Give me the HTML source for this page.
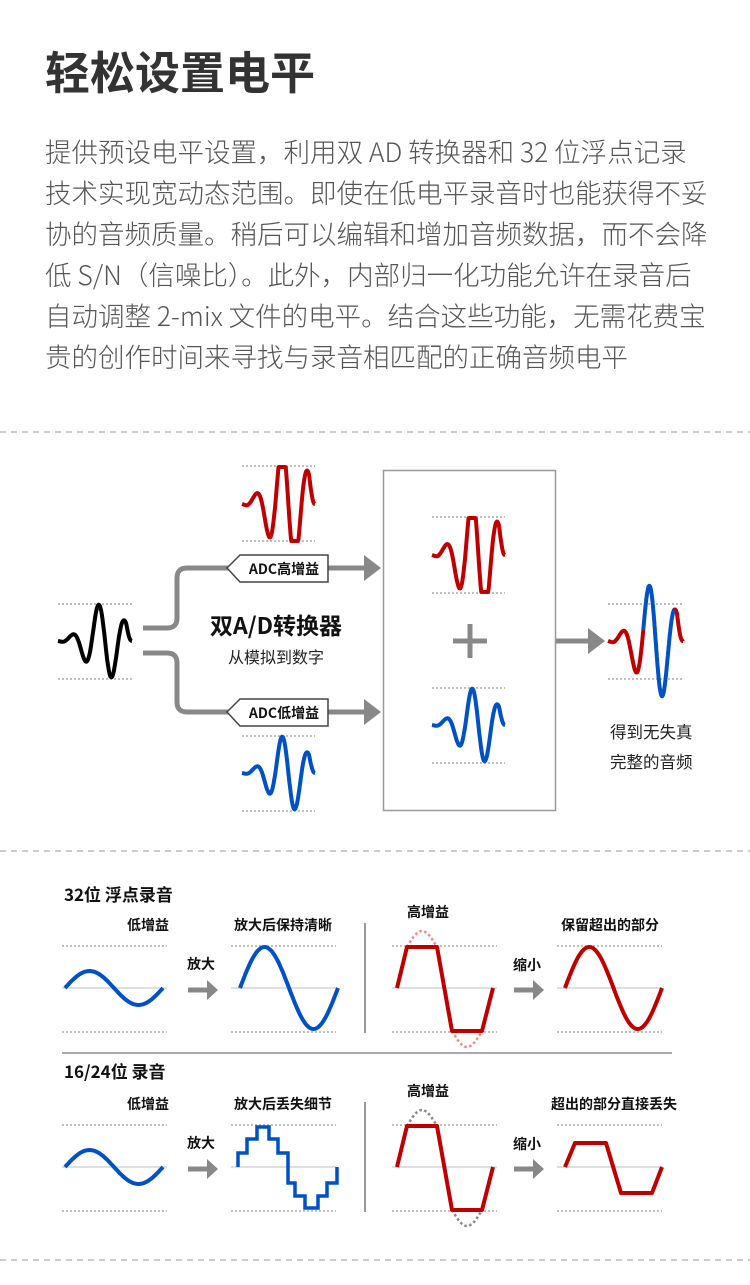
<!DOCTYPE html>
<html><head><meta charset="utf-8">
<style>
html,body{margin:0;padding:0;background:#fff;}
body{width:750px;height:1285px;position:relative;overflow:hidden;font-family:"Liberation Sans","Noto Sans CJK SC",sans-serif;}
.t{position:absolute;left:45px;top:40px;font-size:45px;font-weight:bold;color:#333;line-height:60px;white-space:nowrap;font-family:"Noto Sans CJK SC",sans-serif;}
.p{position:absolute;left:45px;top:130px;font-size:26.5px;color:#555;line-height:41px;white-space:nowrap;font-family:"Noto Sans CJK SC",sans-serif;font-weight:300;}
svg{position:absolute;left:0;top:0;}
svg text{font-family:"Noto Sans CJK SC",sans-serif;}
</style></head><body>
<div class="t">轻松设置电平</div>
<div class="p">提供预设电平设置，利用双 AD 转换器和 32 位浮点记录<br>技术实现宽动态范围。即使在低电平录音时也能获得不妥<br>协的音频质量。稍后可以编辑和增加音频数据，而不会降<br>低 S/N（信噪比）。此外，内部归一化功能允许在录音后<br>自动调整 2-mix 文件的电平。结合这些功能，无需花费宝<br>贵的创作时间来寻找与录音相匹配的正确音频电平</div>
<svg width="750" height="1285" viewBox="0 0 750 1285">
<g stroke="#bbb" stroke-width="1.5" stroke-dasharray="6,5">
<line x1="0" y1="432" x2="750" y2="432"/>
<line x1="0" y1="851" x2="750" y2="851"/>
<line x1="0" y1="1260" x2="750" y2="1260"/>
</g>
<g id="dots" stroke="#999" stroke-width="1.3" stroke-dasharray="2,2">
<line x1="58" y1="604" x2="132" y2="604"/><line x1="58" y1="679" x2="132" y2="679"/>
<line x1="242" y1="466" x2="315" y2="466"/><line x1="242" y1="541" x2="315" y2="541"/>
<line x1="242" y1="736" x2="315" y2="736"/><line x1="242" y1="811" x2="315" y2="811"/>
<line x1="432" y1="517" x2="505" y2="517"/><line x1="432" y1="593" x2="505" y2="593"/>
<line x1="432" y1="688" x2="505" y2="688"/><line x1="432" y1="763" x2="505" y2="763"/>
<line x1="608" y1="604" x2="683" y2="604"/><line x1="608" y1="679" x2="683" y2="679"/>
</g>
<g fill="none" stroke="#888" stroke-width="5">
<path d="M143,628 H167 Q177,628 177,618 V578 Q177,568 187,568 H230"/>
<path d="M143,653 H167 Q177,653 177,663 V702 Q177,712 187,712 H230"/>
<line x1="328" y1="568" x2="366" y2="568"/>
<line x1="328" y1="712" x2="366" y2="712"/>
<line x1="555" y1="641" x2="590" y2="641"/>
</g>
<g fill="#888">
<polygon points="364,555 381,568 364,581"/>
<polygon points="364,699 381,712 364,725"/>
<polygon points="588,628 605,641 588,654"/>
</g>
<g fill="#fff" stroke="#444" stroke-width="1.5">
<polygon points="227,568 240,555 328,555 328,582 240,582"/>
<polygon points="227,712 240,699 328,699 328,726 240,726"/>
</g>
<text x="284" y="574" font-size="14" font-weight="bold" text-anchor="middle" fill="#111">ADC高增益</text>
<text x="284" y="718" font-size="14" font-weight="bold" text-anchor="middle" fill="#111">ADC低增益</text>
<text x="276" y="634" font-size="23" font-weight="bold" text-anchor="middle" fill="#111">双A/D转换器</text>
<text x="276" y="663" font-size="16" text-anchor="middle" fill="#222">从模拟到数字</text>
<rect x="383.5" y="470.5" width="172" height="340" fill="none" stroke="#999" stroke-width="1.5"/>
<g stroke="#888" stroke-width="5"><line x1="470" y1="624" x2="470" y2="658"/><line x1="453" y1="641" x2="487" y2="641"/></g>
<text x="610" y="738" font-size="16.5" fill="#222">得到无失真</text>
<text x="610" y="768" font-size="16.5" fill="#222">完整的音频</text>
<g id="waves" fill="none" stroke-width="4" stroke-linejoin="round"></g>
<text x="64" y="901" font-size="17" font-weight="bold" fill="#111">32位 浮点录音</text>
<text x="64" y="1078" font-size="17" font-weight="bold" fill="#111">16/24位 录音</text>
<line x1="62" y1="1053" x2="672" y2="1053" stroke="#aaa" stroke-width="2"/>
<g id="bot"></g>
</svg>
<script>
var NS="http://www.w3.org/2000/svg";
function el(par,tag,attrs){var e=document.createElementNS(NS,tag);for(var k in attrs)e.setAttribute(k,attrs[k]);par.appendChild(e);return e;}
function f(t){var d=t-0.636;var w=1;if(t<0.08)w=t/0.08;if(t>0.92)w=(1-t)/0.08;return -Math.exp(-Math.pow(d/0.33,2))*Math.sin(2*Math.PI*2.78*d)*w;}
function wave(x0,x1,cy,A,gain,clip,t0,t1){var pts=[];var N=120;for(var i=0;i<=N;i++){var t=t0+(t1-t0)*i/N;var v=f(t)*gain;if(clip){if(v>1)v=1;if(v<-1)v=-1;}pts.push((x0+(x1-x0)*t).toFixed(1)+","+(cy-A*v).toFixed(1));}return "M"+pts.join(" L");}
var g=document.getElementById("waves");
el(g,"path",{d:wave(58,132,641,37/0.95,1,false,0,1),stroke:"#000"});
el(g,"path",{d:wave(242,315,504,37,1.7,true,0,1),stroke:"#c00000"});
el(g,"path",{d:wave(242,315,773,37/0.95,1,false,0,1),stroke:"#0050c8"});
el(g,"path",{d:wave(432,505,555,37,1.7,true,0,1),stroke:"#c00000"});
el(g,"path",{d:wave(432,505,725,37/0.95,1,false,0,1),stroke:"#0050c8"});
el(g,"path",{d:wave(608,683,641,37,1.6,false,0,0.47),stroke:"#c00000"});
el(g,"path",{d:wave(608,683,641,37,1.6,false,0.88,1),stroke:"#c00000"});
el(g,"path",{d:wave(608,683,641,37,1.6,false,0.47,0.88),stroke:"#0050c8"});
var b=document.getElementById("bot");
function sine(x0,x1,cy,A,n){var p=[];for(var i=0;i<=n;i++){var t=i/n;p.push((x0+(x1-x0)*t).toFixed(1)+","+(cy-A*Math.sin(2*Math.PI*t)).toFixed(1));}return "M"+p.join(" L");}
function arc(x0,x1,cy,A,dir){var p=[];for(var i=0;i<=30;i++){var t=i/30;p.push((x0+(x1-x0)*t).toFixed(1)+","+(cy-dir*A*Math.sin(Math.PI*t)).toFixed(1));}return "M"+p.join(" L");}
function row(dy,r2){
 var ax=988+dy, top=946+dy, bot=1032+dy;
 [[62,167],[231,336],[392,497],[557,662]].forEach(function(s){
  el(b,"line",{x1:s[0],y1:top,x2:s[1],y2:top,stroke:"#999","stroke-width":1.3,"stroke-dasharray":"2,2"});
  el(b,"line",{x1:s[0],y1:bot,x2:s[1],y2:bot,stroke:"#999","stroke-width":1.3,"stroke-dasharray":"2,2"});
  el(b,"line",{x1:s[0],y1:ax,x2:s[1],y2:ax,stroke:"#ccc","stroke-width":1.3});
 });
 el(b,"line",{x1:365,y1:923+dy,x2:365,y2:1033+dy,stroke:"#999","stroke-width":2});
 [[188,218],[514,544]].forEach(function(a){
  el(b,"line",{x1:a[0],y1:ax+2,x2:a[1]-10,y2:ax+2,stroke:"#888","stroke-width":5});
  el(b,"polygon",{points:(a[1]-11)+","+(ax-8)+" "+a[1]+","+(ax+2)+" "+(a[1]-11)+","+(ax+12),fill:"#888"});
 });
 el(b,"path",{d:sine(65,163,ax,17,60),fill:"none",stroke:"#0050c8","stroke-width":4});
 if(!r2){
  el(b,"path",{d:sine(240,338,ax,41,60),fill:"none",stroke:"#0050c8","stroke-width":4});
  el(b,"path",{d:sine(565,662,ax,41,60),fill:"none",stroke:"#c00000","stroke-width":4});
 } else {
  el(b,"path",{d:"M238,1167 V1153 H247 V1139 H257 V1127 H269 V1139 H278 V1153 H288 V1183 H295 V1196 H305 V1208 H318 V1196 H327 V1183 H337 V1167",fill:"none",stroke:"#0050c8","stroke-width":3.5});
  el(b,"path",{d:"M565,1167 L575,1143 H606 L621,1193 H652 L662,1167",fill:"none",stroke:"#c00000","stroke-width":4,"stroke-linejoin":"round"});
 }
 var ac=r2?"#888":"#e88";
 el(b,"path",{d:arc(407,437,top+1,16,1),fill:"none",stroke:ac,"stroke-width":2.5,"stroke-dasharray":"2.5,2.5"});
 el(b,"path",{d:arc(452,482,bot-1,16,-1),fill:"none",stroke:ac,"stroke-width":2.5,"stroke-dasharray":"2.5,2.5"});
 el(b,"path",{d:"M397,"+ax+" L407,"+(top+1)+" H437 L452,"+(bot-1)+" H482 L493,"+ax,fill:"none",stroke:"#c00000","stroke-width":4,"stroke-linejoin":"round"});
 function tx(x,y,s,str){var e=el(b,"text",{x:x,y:y,"font-size":s,"font-weight":"bold","text-anchor":"middle",fill:"#111"});e.textContent=str;}
 tx(148,930+dy,14,"低增益");
 tx(283,930+dy,14,r2?"放大后丢失细节":"放大后保持清晰");
 tx(428,917+dy,14,"高增益");
 tx(r2?614:610,930+dy,14,r2?"超出的部分直接丢失":"保留超出的部分");
 tx(201,969+dy,14,"放大");
 tx(527,970+dy,14,"缩小");
}
row(0,false);row(179,true);
</script>
</body></html>
